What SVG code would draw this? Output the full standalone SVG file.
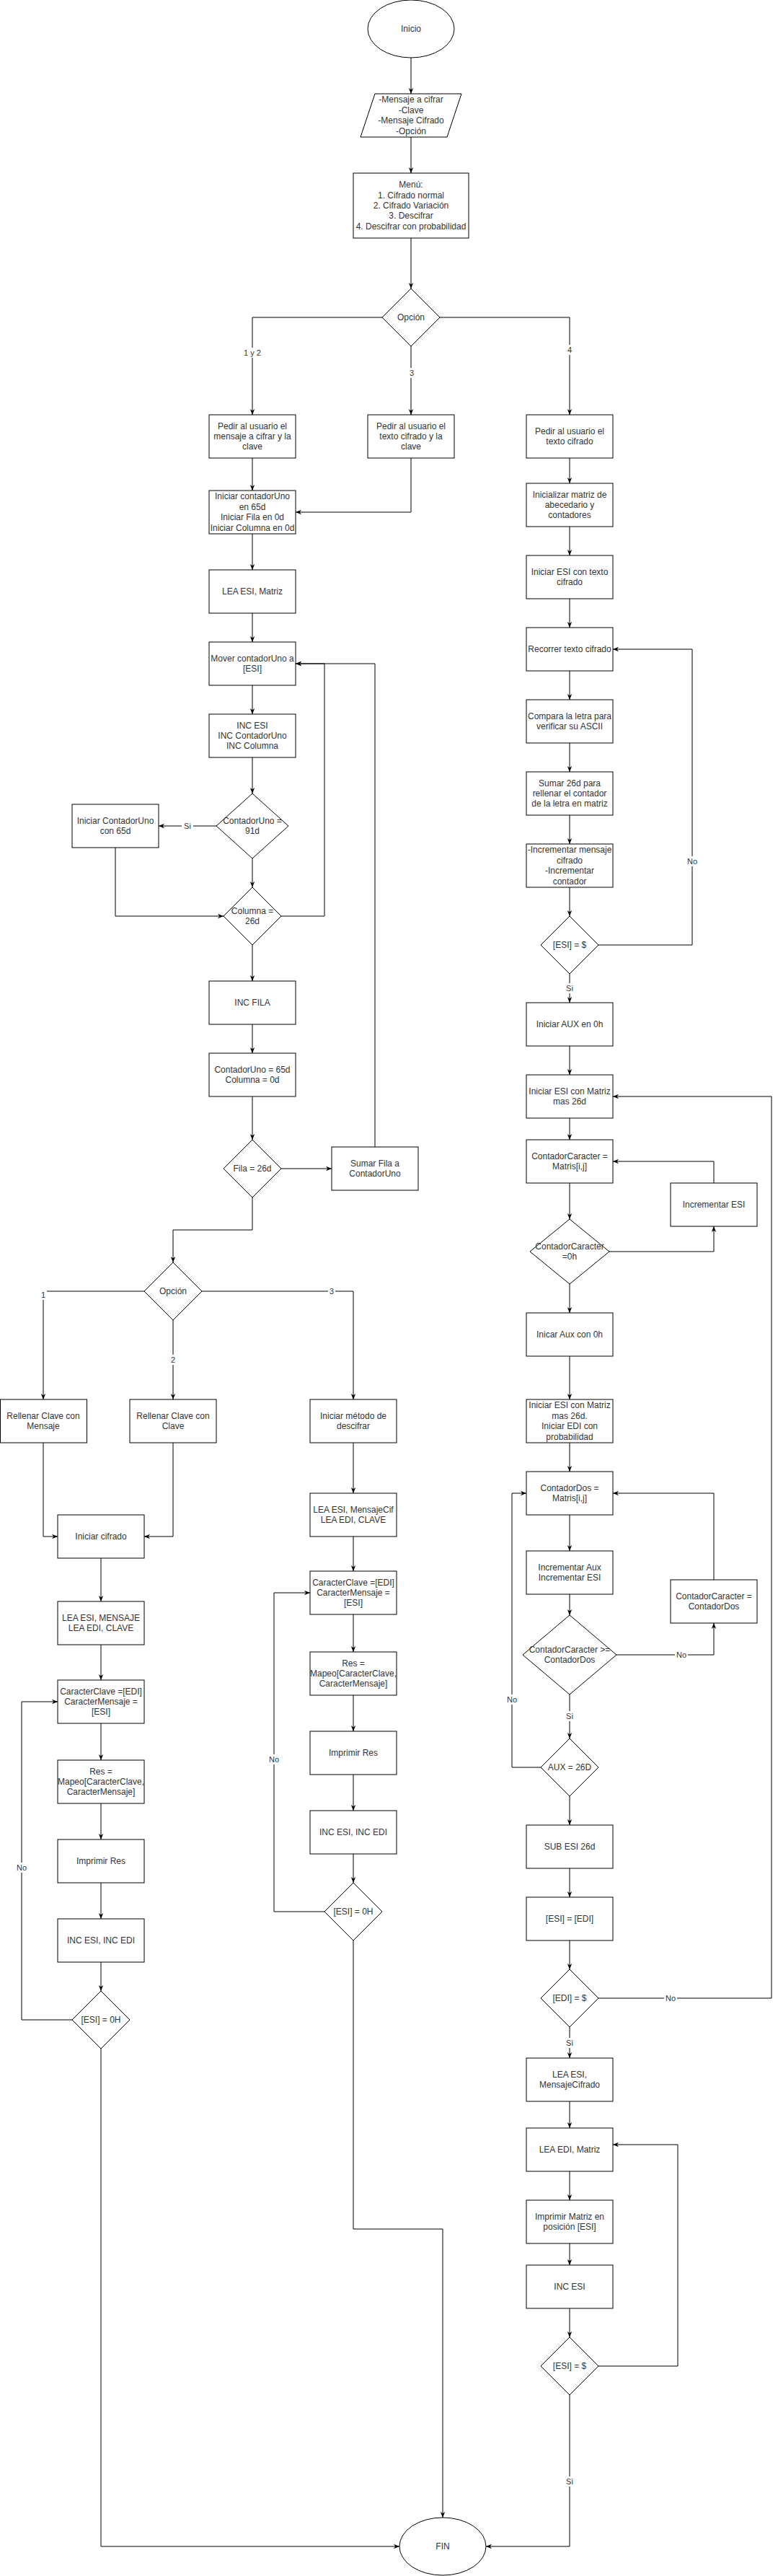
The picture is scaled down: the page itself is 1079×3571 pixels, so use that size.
<svg xmlns="http://www.w3.org/2000/svg" width="1079" height="3571" viewBox="0 0 1079 3571">
<defs>
<marker id="a" viewBox="0 0 10 10" refX="10" refY="5" markerWidth="8" markerHeight="8" markerUnits="userSpaceOnUse" orient="auto">
<path d="M0,1 L10,5 L0,9 L3,5 Z" fill="#000"/>
</marker>
<style>
.n rect,.n path,.n ellipse{fill:#fff;stroke:#000;stroke-width:1}
text{font-family:"Liberation Sans",Arial,Helvetica,sans-serif;font-size:12px;fill:#333;text-anchor:middle}
.e path{fill:none;stroke:#000;stroke-width:1;marker-end:url(#a)}
.e path.p{marker-end:none}
.lb rect{fill:#fff;stroke:none}
.lb text{font-size:11px}
</style>
</defs>
<rect width="1079" height="3571" fill="#fff"/>
<g id="connectors" class="e">
<path d="M570,80 V130"/>
<path d="M570,190 V240"/>
<path d="M570,330 V400"/>
<path d="M530,440 H350 V575"/>
<path d="M570,480 V575"/>
<path d="M610,440 H790 V575"/>
<path d="M350,635 V680"/>
<path d="M570,635 V710 H410"/>
<path d="M350,740 V790"/>
<path d="M350,850 V890"/>
<path d="M350,950 V990"/>
<path d="M350,1050 V1100"/>
<path d="M300,1145 H220"/>
<path d="M160,1175 V1270 H310"/>
<path d="M350,1190 V1230"/>
<path d="M390,1270 H450 V920 H410"/>
<path d="M350,1310 V1360"/>
<path d="M350,1420 V1460"/>
<path d="M350,1520 V1580"/>
<path d="M390,1620 H460"/>
<path d="M520,1590 V920 H410"/>
<path d="M350,1660 V1705 H240 V1750"/>
<path d="M200,1790 H60 V1940"/>
<path d="M240,1830 V1940"/>
<path d="M280,1790 H490 V1940"/>
<path d="M60,2000 V2130 H80"/>
<path d="M240,2000 V2130 H200"/>
<path d="M140,2160 V2220"/>
<path d="M140,2280 V2329"/>
<path d="M140,2389 V2440"/>
<path d="M140,2500 V2550"/>
<path d="M140,2610 V2660"/>
<path d="M140,2720 V2760"/>
<path d="M100,2800 H30 V2359 H80"/>
<path d="M140,2840 V3530 H554"/>
<path d="M490,2000 V2070"/>
<path d="M490,2130 V2178"/>
<path d="M490,2238 V2290"/>
<path d="M490,2350 V2400"/>
<path d="M490,2460 V2510"/>
<path d="M490,2570 V2610"/>
<path d="M450,2650 H380 V2208 H430"/>
<path d="M490,2690 V3090 H614 V3490"/>
<path d="M790,635 V670"/>
<path d="M790,730 V770"/>
<path d="M790,830 V870"/>
<path d="M790,930 V970"/>
<path d="M790,1030 V1070"/>
<path d="M790,1130 V1170"/>
<path d="M790,1230 V1270"/>
<path d="M830,1310 H960 V900 H850"/>
<path d="M790,1350 V1390"/>
<path d="M790,1450 V1490"/>
<path d="M790,1550 V1580"/>
<path d="M790,1640 V1690"/>
<path d="M845,1735 H990 V1700"/>
<path d="M990,1640 V1610 H850"/>
<path d="M790,1780 V1820"/>
<path d="M790,1880 V1940"/>
<path d="M790,2000 V2040"/>
<path d="M790,2100 V2150"/>
<path d="M790,2210 V2239"/>
<path d="M855,2294 H990 V2250"/>
<path d="M990,2190 V2070 H850"/>
<path d="M790,2349 V2410"/>
<path d="M750,2450 H710 V2070 H730"/>
<path d="M790,2490 V2530"/>
<path d="M790,2590 V2630"/>
<path d="M790,2690 V2730"/>
<path d="M830,2770 H1070 V1520 H850"/>
<path d="M790,2810 V2853"/>
<path d="M790,2913 V2950"/>
<path d="M790,3010 V3050"/>
<path d="M790,3110 V3140"/>
<path d="M790,3200 V3240"/>
<path d="M830,3280 H940 V2973 H850"/>
<path d="M790,3320 V3530 H674"/>
</g>
<g id="edge-labels" class="lb">
<rect x="336" y="482" width="28" height="14"/><text x="350" y="493">1 y 2</text>
<rect x="566" y="510" width="10" height="14"/><text x="571" y="521">3</text>
<rect x="785" y="478" width="10" height="14"/><text x="790" y="489">4</text>
<rect x="252" y="1138" width="16" height="14"/><text x="260" y="1149">Si</text>
<rect x="951" y="1187" width="18" height="14"/><text x="960" y="1198">No</text>
<rect x="782" y="1363" width="16" height="14"/><text x="790" y="1374">Si</text>
<rect x="936" y="2287" width="18" height="14"/><text x="945" y="2298">No</text>
<rect x="782" y="2372" width="16" height="14"/><text x="790" y="2383">Si</text>
<rect x="701" y="2349" width="18" height="14"/><text x="710" y="2360">No</text>
<rect x="921" y="2763" width="18" height="14"/><text x="930" y="2774">No</text>
<rect x="782" y="2825" width="16" height="14"/><text x="790" y="2836">Si</text>
<rect x="782" y="3433" width="16" height="14"/><text x="790" y="3444">Si</text>
<rect x="21" y="2582" width="18" height="14"/><text x="30" y="2593">No</text>
<rect x="371" y="2432" width="18" height="14"/><text x="380" y="2443">No</text>
<rect x="55" y="1788" width="10" height="14"/><text x="60" y="1799">1</text>
<rect x="235" y="1878" width="10" height="14"/><text x="240" y="1889">2</text>
<rect x="455" y="1783" width="10" height="14"/><text x="460" y="1794">3</text>
</g>
<g id="inicio" class="n"><ellipse cx="570" cy="40" rx="60" ry="40"/><text x="570" y="44">Inicio</text></g>
<g id="entrada" class="n"><path d="M520,130 L640,130 L620,190 L500,190 Z"/><text x="570"><tspan x="570" y="142.4">-Mensaje a cifrar</tspan><tspan x="570" y="156.8">-Clave</tspan><tspan x="570" y="171.2">-Mensaje Cifrado</tspan><tspan x="570" y="185.6">-Opción</tspan></text></g>
<g id="menu" class="n"><rect x="490" y="240" width="160" height="90"/><text><tspan x="570" y="260.2">Menú:</tspan><tspan x="570" y="274.6">1. Cifrado normal</tspan><tspan x="570" y="289">2. Cifrado Variación</tspan><tspan x="570" y="303.4">3. Descifrar</tspan><tspan x="570" y="317.8">4. Descifrar con probabilidad</tspan></text></g>
<g id="opcion1" class="n"><path d="M570,400 L610,440 L570,480 L530,440 Z"/><text x="570" y="444">Opción</text></g>
<g id="pedir12" class="n"><rect x="290" y="575" width="120" height="60"/><text><tspan x="350" y="594.6">Pedir al usuario el</tspan><tspan x="350" y="609">mensaje a cifrar y la</tspan><tspan x="350" y="623.4">clave</tspan></text></g>
<g id="pedir3" class="n"><rect x="510" y="575" width="120" height="60"/><text><tspan x="570" y="594.6">Pedir al usuario el</tspan><tspan x="570" y="609">texto cifrado y la</tspan><tspan x="570" y="623.4">clave</tspan></text></g>
<g id="pedir4" class="n"><rect x="730" y="575" width="120" height="60"/><text><tspan x="790" y="601.8">Pedir al usuario el</tspan><tspan x="790" y="616.2">texto cifrado</tspan></text></g>
<g id="initCont" class="n"><rect x="290" y="680" width="120" height="60"/><text><tspan x="350" y="692.4">Iniciar contadorUno</tspan><tspan x="350" y="706.8">en 65d</tspan><tspan x="350" y="721.2">Iniciar Fila en 0d</tspan><tspan x="350" y="735.6">Iniciar Columna en 0d</tspan></text></g>
<g id="leaMatriz" class="n"><rect x="290" y="790" width="120" height="60"/><text x="350" y="824">LEA ESI, Matriz</text></g>
<g id="mover" class="n"><rect x="290" y="890" width="120" height="60"/><text><tspan x="350" y="916.8">Mover contadorUno a</tspan><tspan x="350" y="931.2">[ESI]</tspan></text></g>
<g id="incs" class="n"><rect x="290" y="990" width="120" height="60"/><text><tspan x="350" y="1009.6">INC ESI</tspan><tspan x="350" y="1024">INC ContadorUno</tspan><tspan x="350" y="1038.4">INC Columna</tspan></text></g>
<g id="d91" class="n"><path d="M350,1100 L400,1145 L350,1190 L300,1145 Z"/><text><tspan x="350" y="1141.8">ContadorUno =</tspan><tspan x="350" y="1156.2">91d</tspan></text></g>
<g id="reinit" class="n"><rect x="100" y="1115" width="120" height="60"/><text><tspan x="160" y="1141.8">Iniciar ContadorUno</tspan><tspan x="160" y="1156.2">con 65d</tspan></text></g>
<g id="dCol" class="n"><path d="M350,1230 L390,1270 L350,1310 L310,1270 Z"/><text><tspan x="350" y="1266.8">Columna =</tspan><tspan x="350" y="1281.2">26d</tspan></text></g>
<g id="incFila" class="n"><rect x="290" y="1360" width="120" height="60"/><text x="350" y="1394">INC FILA</text></g>
<g id="reset" class="n"><rect x="290" y="1460" width="120" height="60"/><text><tspan x="350" y="1486.8">ContadorUno = 65d</tspan><tspan x="350" y="1501.2">Columna = 0d</tspan></text></g>
<g id="dFila" class="n"><path d="M350,1580 L390,1620 L350,1660 L310,1620 Z"/><text x="350" y="1624">Fila = 26d</text></g>
<g id="sumar" class="n"><rect x="460" y="1590" width="120" height="60"/><text><tspan x="520" y="1616.8">Sumar Fila a</tspan><tspan x="520" y="1631.2">ContadorUno</tspan></text></g>
<g id="opcion2" class="n"><path d="M240,1750 L280,1790 L240,1830 L200,1790 Z"/><text x="240" y="1794">Opción</text></g>
<g id="rellMsg" class="n"><rect x="0.5" y="1940" width="120" height="60"/><text><tspan x="60" y="1966.8">Rellenar Clave con</tspan><tspan x="60" y="1981.2">Mensaje</tspan></text></g>
<g id="rellClave" class="n"><rect x="180" y="1940" width="120" height="60"/><text><tspan x="240" y="1966.8">Rellenar Clave con</tspan><tspan x="240" y="1981.2">Clave</tspan></text></g>
<g id="initDesc" class="n"><rect x="430" y="1940" width="120" height="60"/><text><tspan x="490" y="1966.8">Iniciar método de</tspan><tspan x="490" y="1981.2">descifrar</tspan></text></g>
<g id="initCif" class="n"><rect x="80" y="2100" width="120" height="60"/><text x="140" y="2134">Iniciar cifrado</text></g>
<g id="leaL" class="n"><rect x="80" y="2220" width="120" height="60"/><text><tspan x="140" y="2246.8">LEA ESI, MENSAJE</tspan><tspan x="140" y="2261.2">LEA EDI, CLAVE</tspan></text></g>
<g id="carL" class="n"><rect x="80" y="2329" width="120" height="60"/><text><tspan x="140" y="2348.6">CaracterClave =[EDI]</tspan><tspan x="140" y="2363">CaracterMensaje =</tspan><tspan x="140" y="2377.4">[ESI]</tspan></text></g>
<g id="resL" class="n"><rect x="80" y="2440" width="120" height="60"/><text><tspan x="140" y="2459.6">Res =</tspan><tspan x="140" y="2474">Mapeo[CaracterClave,</tspan><tspan x="140" y="2488.4">CaracterMensaje]</tspan></text></g>
<g id="impL" class="n"><rect x="80" y="2550" width="120" height="60"/><text x="140" y="2584">Imprimir Res</text></g>
<g id="incL" class="n"><rect x="80" y="2660" width="120" height="60"/><text x="140" y="2694">INC ESI, INC EDI</text></g>
<g id="dEsiL" class="n"><path d="M140,2760 L180,2800 L140,2840 L100,2800 Z"/><text x="140" y="2804">[ESI] = 0H</text></g>
<g id="leaR" class="n"><rect x="430" y="2070" width="120" height="60"/><text><tspan x="490" y="2096.8">LEA ESI, MensajeCif</tspan><tspan x="490" y="2111.2">LEA EDI, CLAVE</tspan></text></g>
<g id="carR" class="n"><rect x="430" y="2178" width="120" height="60"/><text><tspan x="490" y="2197.6">CaracterClave =[EDI]</tspan><tspan x="490" y="2212">CaracterMensaje =</tspan><tspan x="490" y="2226.4">[ESI]</tspan></text></g>
<g id="resR" class="n"><rect x="430" y="2290" width="120" height="60"/><text><tspan x="490" y="2309.6">Res =</tspan><tspan x="490" y="2324">Mapeo[CaracterClave,</tspan><tspan x="490" y="2338.4">CaracterMensaje]</tspan></text></g>
<g id="impR" class="n"><rect x="430" y="2400" width="120" height="60"/><text x="490" y="2434">Imprimir Res</text></g>
<g id="incR" class="n"><rect x="430" y="2510" width="120" height="60"/><text x="490" y="2544">INC ESI, INC EDI</text></g>
<g id="dEsiR" class="n"><path d="M490,2610 L530,2650 L490,2690 L450,2650 Z"/><text x="490" y="2654">[ESI] = 0H</text></g>
<g id="initMatriz" class="n"><rect x="730" y="670" width="120" height="60"/><text><tspan x="790" y="689.6">Inicializar matriz de</tspan><tspan x="790" y="704">abecedario y</tspan><tspan x="790" y="718.4">contadores</tspan></text></g>
<g id="initEsi" class="n"><rect x="730" y="770" width="120" height="60"/><text><tspan x="790" y="796.8">Iniciar ESI con texto</tspan><tspan x="790" y="811.2">cifrado</tspan></text></g>
<g id="recorrer" class="n"><rect x="730" y="870" width="120" height="60"/><text x="790" y="904">Recorrer texto cifrado</text></g>
<g id="compara" class="n"><rect x="730" y="970" width="120" height="60"/><text><tspan x="790" y="996.8">Compara la letra para</tspan><tspan x="790" y="1011.2">verificar su ASCII</tspan></text></g>
<g id="sumar26" class="n"><rect x="730" y="1070" width="120" height="60"/><text><tspan x="790" y="1089.6">Sumar 26d para</tspan><tspan x="790" y="1104">rellenar el contador</tspan><tspan x="790" y="1118.4">de la letra en matriz</tspan></text></g>
<g id="incMsg" class="n"><rect x="730" y="1170" width="120" height="60"/><text><tspan x="790" y="1182.4">-Incrementar mensaje</tspan><tspan x="790" y="1196.8">cifrado</tspan><tspan x="790" y="1211.2">-Incrementar</tspan><tspan x="790" y="1225.6">contador</tspan></text></g>
<g id="dEsi1" class="n"><path d="M790,1270 L830,1310 L790,1350 L750,1310 Z"/><text x="790" y="1314">[ESI] = $</text></g>
<g id="initAux" class="n"><rect x="730" y="1390" width="120" height="60"/><text x="790" y="1424">Iniciar AUX en 0h</text></g>
<g id="initEsiM" class="n"><rect x="730" y="1490" width="120" height="60"/><text><tspan x="790" y="1516.8">Iniciar ESI con Matriz</tspan><tspan x="790" y="1531.2">mas 26d</tspan></text></g>
<g id="contCar" class="n"><rect x="730" y="1580" width="120" height="60"/><text><tspan x="790" y="1606.8">ContadorCaracter =</tspan><tspan x="790" y="1621.2">Matris[i,j]</tspan></text></g>
<g id="incEsi" class="n"><rect x="930" y="1640" width="120" height="60"/><text x="990" y="1674">Incrementar ESI</text></g>
<g id="dCC0" class="n"><path d="M790,1690 L845,1735 L790,1780 L735,1735 Z"/><text><tspan x="790" y="1731.8">ContadorCaracter</tspan><tspan x="790" y="1746.2">=0h</tspan></text></g>
<g id="inicarAux" class="n"><rect x="730" y="1820" width="120" height="60"/><text x="790" y="1854">Inicar Aux con 0h</text></g>
<g id="initEsiEdi" class="n"><rect x="730" y="1940" width="120" height="60"/><text><tspan x="790" y="1952.4">Iniciar ESI con Matriz</tspan><tspan x="790" y="1966.8">mas 26d.</tspan><tspan x="790" y="1981.2">Iniciar EDI con</tspan><tspan x="790" y="1995.6">probabilidad</tspan></text></g>
<g id="contDos" class="n"><rect x="730" y="2040" width="120" height="60"/><text><tspan x="790" y="2066.8">ContadorDos =</tspan><tspan x="790" y="2081.2">Matris[i,j]</tspan></text></g>
<g id="incAux" class="n"><rect x="730" y="2150" width="120" height="60"/><text><tspan x="790" y="2176.8">Incrementar Aux</tspan><tspan x="790" y="2191.2">Incrementar ESI</tspan></text></g>
<g id="dGe" class="n"><path d="M790,2239 L855,2294 L790,2349 L725,2294 Z"/><text><tspan x="790" y="2290.8">ContadorCaracter &gt;=</tspan><tspan x="790" y="2305.2">ContadorDos</tspan></text></g>
<g id="ccEq" class="n"><rect x="930" y="2190" width="120" height="60"/><text><tspan x="990" y="2216.8">ContadorCaracter =</tspan><tspan x="990" y="2231.2">ContadorDos</tspan></text></g>
<g id="dAux" class="n"><path d="M790,2410 L830,2450 L790,2490 L750,2450 Z"/><text x="790" y="2454">AUX = 26D</text></g>
<g id="subEsi" class="n"><rect x="730" y="2530" width="120" height="60"/><text x="790" y="2564">SUB ESI 26d</text></g>
<g id="esiEdi" class="n"><rect x="730" y="2630" width="120" height="60"/><text x="790" y="2664">[ESI] = [EDI]</text></g>
<g id="dEdi" class="n"><path d="M790,2730 L830,2770 L790,2810 L750,2770 Z"/><text x="790" y="2774">[EDI] = $</text></g>
<g id="leaEsiMC" class="n"><rect x="730" y="2853" width="120" height="60"/><text><tspan x="790" y="2879.8">LEA ESI,</tspan><tspan x="790" y="2894.2">MensajeCifrado</tspan></text></g>
<g id="leaEdiM" class="n"><rect x="730" y="2950" width="120" height="60"/><text x="790" y="2984">LEA EDI, Matriz</text></g>
<g id="impMat" class="n"><rect x="730" y="3050" width="120" height="60"/><text><tspan x="790" y="3076.8">Imprimir Matriz en</tspan><tspan x="790" y="3091.2">posición [ESI]</tspan></text></g>
<g id="incEsi2" class="n"><rect x="730" y="3140" width="120" height="60"/><text x="790" y="3174">INC ESI</text></g>
<g id="dEsi2" class="n"><path d="M790,3240 L830,3280 L790,3320 L750,3280 Z"/><text x="790" y="3284">[ESI] = $</text></g>
<g id="fin" class="n"><ellipse cx="614" cy="3530" rx="60" ry="40"/><text x="614" y="3534">FIN</text></g>
</svg>
